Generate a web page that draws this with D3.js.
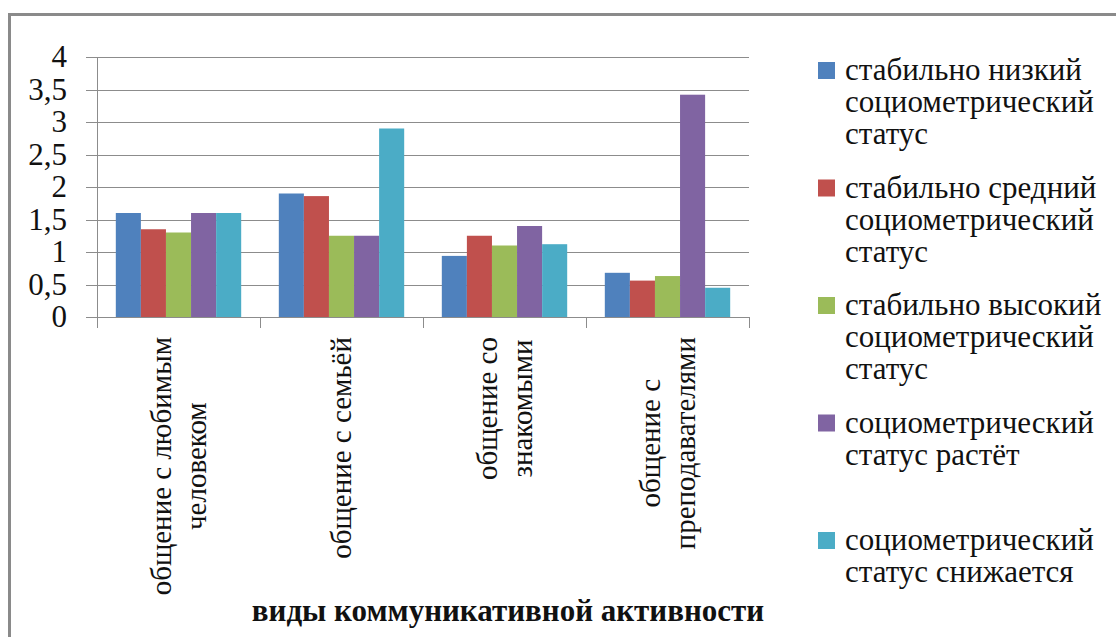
<!DOCTYPE html>
<html>
<head>
<meta charset="utf-8">
<script src="https://cdn.jsdelivr.net/npm/d3@7"></script>
<style>
  body { margin: 0; background: #fff; }
</style>
</head>
<body>
<script>
//categories and their label lines
var categories = ["любимый", "семья", "знакомые", "преподаватели"];
var categoryLines = [
    ["общение с любимым", "человеком"],
    ["общение с семьёй"],
    ["общение со", "знакомыми"],
    ["общение с", "преподавателями"]
];

//series names, legend lines and values per category
var seriesNames = ["низкий", "средний", "высокий", "растёт", "снижается"];
var legendLines = [
    ["стабильно низкий", "социометрический", "статус"],
    ["стабильно средний", "социометрический", "статус"],
    ["стабильно высокий", "социометрический", "статус"],
    ["социометрический", "статус растёт"],
    ["социометрический", "статус снижается"]
];
var lowValues = [1.6, 1.9, 0.94, 0.68];
var midValues = [1.35, 1.86, 1.25, 0.56];
var highValues = [1.3, 1.25, 1.1, 0.63];
var risingValues = [1.6, 1.25, 1.4, 3.42];
var fallingValues = [1.6, 2.9, 1.12, 0.45];
var seriesValues = [lowValues, midValues, highValues, risingValues, fallingValues];

var yTicks = [0, 0.5, 1, 1.5, 2, 2.5, 3, 3.5, 4];
var colors = ["#4F81BD", "#C0504D", "#9BBB59", "#8064A2", "#4BACC6"];
var axisTitle = "виды коммуникативной активности";

var serif = "'Liberation Serif', 'Times New Roman', serif";

//frame dimensions
var width = 1116, height = 637;
var plotLeft = 97, plotRight = 749, plotTop = 57, plotBottom = 317;

var svg = d3.select("body")
    .append("svg")
    .attr("width", width)
    .attr("height", height)
    .style("font-family", serif);

//outer chart border
svg.append("path")
    .attr("d", "M9.5," + (height + 5) + "V14.5H" + (width + 5))
    .attr("fill", "none")
    .attr("stroke", "#8a8a8a")
    .attr("stroke-width", 3);

//scales
var xScale = d3.scaleBand()
    .domain(categories)
    .range([plotLeft, plotRight]);

var xInner = d3.scaleBand()
    .domain(seriesNames)
    .range([0, xScale.bandwidth()])
    .paddingOuter(0.75);

var yScale = d3.scaleLinear()
    .domain([0, 4])
    .range([plotBottom, plotTop]);

//horizontal gridlines with tick marks on the left
svg.append("g")
    .selectAll("line")
    .data(yTicks)
    .enter()
    .append("line")
    .attr("x1", plotLeft - 11)
    .attr("x2", plotRight)
    .attr("y1", function (d) { return Math.round(yScale(d)) + 0.5; })
    .attr("y2", function (d) { return Math.round(yScale(d)) + 0.5; })
    .attr("stroke", "#8c8c8c")
    .attr("stroke-width", 1);

//y tick labels
svg.append("g")
    .selectAll("text")
    .data(yTicks)
    .enter()
    .append("text")
    .attr("x", 67)
    .attr("y", function (d) { return yScale(d); })
    .attr("dy", "0.33em")
    .attr("text-anchor", "end")
    .style("font-family", serif)
    .style("font-size", "31px")
    .style("fill", "#111")
    .text(function (d) { return String(d).replace(".", ","); });

//bars
categories.forEach(function (cat, ci) {
    svg.append("g")
        .selectAll("rect")
        .data(seriesNames)
        .enter()
        .append("rect")
        .attr("x", function (s) { return xScale(cat) + xInner(s); })
        .attr("width", xInner.bandwidth())
        .attr("y", function (s, si) { return yScale(seriesValues[si][ci]); })
        .attr("height", function (s, si) { return plotBottom - yScale(seriesValues[si][ci]); })
        .style("fill", function (s, si) { return colors[si]; });
});

//axes lines
svg.append("line")
    .attr("x1", plotLeft + 0.5).attr("x2", plotLeft + 0.5)
    .attr("y1", plotTop).attr("y2", plotBottom)
    .attr("stroke", "#8c8c8c");

var catTicks = categories.map(function (c) { return xScale(c); }).concat([plotRight]);
svg.append("g")
    .selectAll("line")
    .data(catTicks)
    .enter()
    .append("line")
    .attr("x1", function (d) { return Math.round(d) + 0.5; })
    .attr("x2", function (d) { return Math.round(d) + 0.5; })
    .attr("y1", plotBottom)
    .attr("y2", plotBottom + 11)
    .attr("stroke", "#8c8c8c");

//rotated category labels, longest line ends just under the axis
categories.forEach(function (cat, ci) {
    var lines = categoryLines[ci];
    var g = svg.append("g")
        .attr("transform", "translate(" + (xScale(cat) + xScale.bandwidth() / 2) + "," + 337 + ") rotate(-90)");
    var texts = g.selectAll("text")
        .data(lines)
        .enter()
        .append("text")
        .attr("y", function (d, i) { return (i - (lines.length - 1) / 2) * 35; })
        .attr("dy", "0.33em")
        .attr("text-anchor", "middle")
        .style("font-family", serif)
        .style("font-size", "29px")
        .style("fill", "#111")
        .text(function (d) { return d; });
    var maxLen = d3.max(texts.nodes(), function (n) { return n.getComputedTextLength(); });
    texts.attr("x", -maxLen / 2);
});

//axis title
svg.append("text")
    .attr("x", 508)
    .attr("y", 621)
    .attr("text-anchor", "middle")
    .style("font-family", serif)
    .style("font-size", "31px")
    .style("font-weight", "bold")
    .style("fill", "#111")
    .text(axisTitle);

//legend
var legend = svg.append("g");
legendLines.forEach(function (lines, i) {
    var top = 70 + i * 117.5;
    legend.append("rect")
        .attr("x", 818)
        .attr("y", top - 8)
        .attr("width", 17)
        .attr("height", 17)
        .style("fill", colors[i]);
    legend.selectAll(".l" + i)
        .data(lines)
        .enter()
        .append("text")
        .attr("class", "l" + i)
        .attr("x", 845)
        .attr("y", function (d, j) { return top + j * 32; })
        .attr("dy", "0.33em")
        .style("font-family", serif)
        .style("font-size", "31px")
        .style("fill", "#111")
        .text(function (d) { return d; });
});
</script>
</body>
</html>
